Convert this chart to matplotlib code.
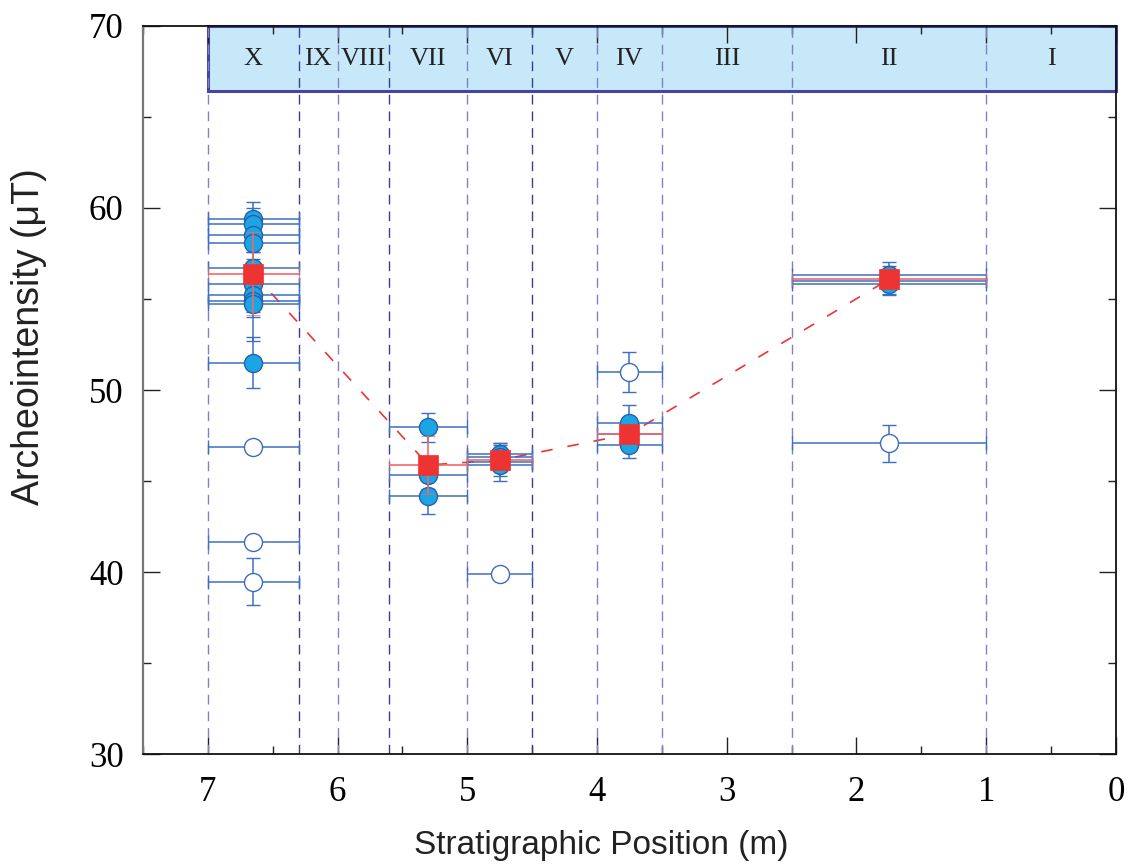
import matplotlib
matplotlib.use("Agg")
import matplotlib.pyplot as plt
from matplotlib.patches import Rectangle
from matplotlib.ticker import MultipleLocator

# ---- data ----
layer_names = ["X", "IX", "VIII", "VII", "VI", "V", "IV", "III", "II", "I"]
layer_bounds = [7.0, 6.3, 6.0, 5.6, 5.0, 4.5, 4.0, 3.5, 2.5, 1.0, 0.0]

# accepted (filled) determinations: position, half-width, intensity, sigma
acc_x = [6.65]*10 + [5.3]*3 + [4.75]*4 + [3.75]*3 + [1.75]*3
acc_xerr = [0.35]*10 + [0.3]*3 + [0.25]*4 + [0.25]*3 + [0.75]*3
acc_y = [59.4, 59.1, 58.5, 58.1, 56.7, 55.8, 55.2, 54.9, 54.7, 51.5,
         47.95, 45.35, 44.2,
         46.5, 46.3, 46.05, 45.9,
         48.2, 47.6, 47.0,
         56.3, 56.0, 55.85]
acc_yerr = [0.95, 0.9, 0.9, 0.9, 0.9, 0.9, 0.9, 0.9, 2.0, 1.4,
            0.8, 0.8, 1.0,
            0.6, 0.7, 1.05, 0.6,
            1.0, 0.6, 0.75,
            0.75, 0.8, 0.6]

# rejected (open) determinations
rej_x = [6.65, 6.65, 6.65, 4.75, 3.75, 1.75]
rej_xerr = [0.35, 0.35, 0.35, 0.25, 0.25, 0.75]
rej_y = [46.87, 41.67, 39.47, 39.9, 50.97, 47.07]
rej_yerr = [0.0, 0.0, 1.3, 0.0, 1.1, 1.0]

# layer means
mean_x = [6.65, 5.3, 4.75, 3.75, 1.75]
mean_xerr = [0.35, 0.3, 0.25, 0.25, 0.75]
mean_y = [56.4, 45.88, 46.15, 47.58, 56.08]
mean_yerr = [2.3, 1.6, 0.3, 0.5, 0.3]

# ---- figure ----
fig = plt.figure(figsize=(11.31, 8.66), dpi=100)
ax = fig.add_axes([0.1264, 0.1293, 0.8603, 0.8407])
ax.set_xlim(7.5, 0)
ax.set_ylim(30, 70)

serif = ["Liberation Serif", "DejaVu Serif"]
sans = ["Liberation Sans", "DejaVu Sans"]

# stratigraphic band
band_bottom = 66.45
ax.add_patch(Rectangle((0, band_bottom), 7.0, 70 - band_bottom,
                       facecolor="#c6e8f8", edgecolor="#4646a0", lw=2.2,
                       zorder=1, clip_on=False))
for i, name in enumerate(layer_names):
    xm = (layer_bounds[i] + layer_bounds[i + 1]) / 2
    ax.text(xm, 68.2, name, ha="center", va="center", fontsize=19,
            family=serif, color="#222222", zorder=3)

dark_lines = {6.3, 5.6, 4.5}
for b in layer_bounds[:-1]:
    col = "#3c3c94" if b in dark_lines else "#8080c4"
    ax.axvline(b, color=col, lw=1.0, ls=(0, (7, 5)), zorder=2)

# red dashed trend through the means
ax.plot(mean_x, mean_y, color="#ee3333", lw=1.2, ls=(0, (7, 9)), zorder=3)

# accepted
ax.errorbar(acc_x, acc_y, xerr=acc_xerr, yerr=acc_yerr, fmt="o",
            ms=13, mfc="#1ba6e3", mec="#2a5ea8", mew=1.0,
            ecolor="#3d6fc0", elinewidth=1.1, capsize=4.8, capthick=1.1,
            zorder=4)

# rejected
ax.errorbar(rej_x, rej_y, xerr=rej_xerr, yerr=rej_yerr, fmt="o",
            ms=13, mfc="white", mec="#3a6cc0", mew=1.0,
            ecolor="#3d6fc0", elinewidth=1.1, capsize=4.8, capthick=1.1,
            zorder=4)

# means
ax.errorbar(mean_x, mean_y, xerr=mean_xerr, yerr=mean_yerr, fmt="s",
            ms=14, mfc="#ee3333", mec="#ee3333", mew=0.5,
            ecolor="#f06868", elinewidth=1.2, capsize=4.8, capthick=1.1,
            zorder=5)

# ticks
ax.xaxis.set_major_locator(MultipleLocator(1))
ax.xaxis.set_minor_locator(MultipleLocator(0.5))
ax.yaxis.set_major_locator(MultipleLocator(10))
ax.yaxis.set_minor_locator(MultipleLocator(5))
ax.tick_params(which="both", direction="in", top=True, right=True,
               color="#222222", width=1.0)
ax.tick_params(which="major", length=12, labelsize=25)
ax.tick_params(axis="x", which="major", pad=16)
ax.tick_params(axis="y", which="major", pad=14)
ax.tick_params(which="minor", length=6)
ax.set_xticks(range(0, 8))
ax.set_xticklabels([str(v) for v in range(0, 8)], fontfamily=serif, fontsize=25)
ax.set_yticks(range(30, 71, 10))
ax.set_yticklabels([str(v) for v in range(30, 71, 10)], fontfamily=serif, fontsize=25)

for side in ["top", "right", "bottom"]:
    ax.spines[side].set_color("#111111")
    ax.spines[side].set_linewidth(1.3)
ax.spines["left"].set_color("#777777")
ax.spines["left"].set_linewidth(1.6)

ax.set_xlabel("Stratigraphic Position (m)", fontsize=24, family=sans,
              color="#222222")
ax.xaxis.set_label_coords(0.471, -0.105)
ax.set_ylabel("Archeointensity (μT)", fontsize=27, family=sans,
              color="#222222")
ax.yaxis.set_label_coords(-0.099, 0.573)

fig.savefig("out.png", dpi=100)
